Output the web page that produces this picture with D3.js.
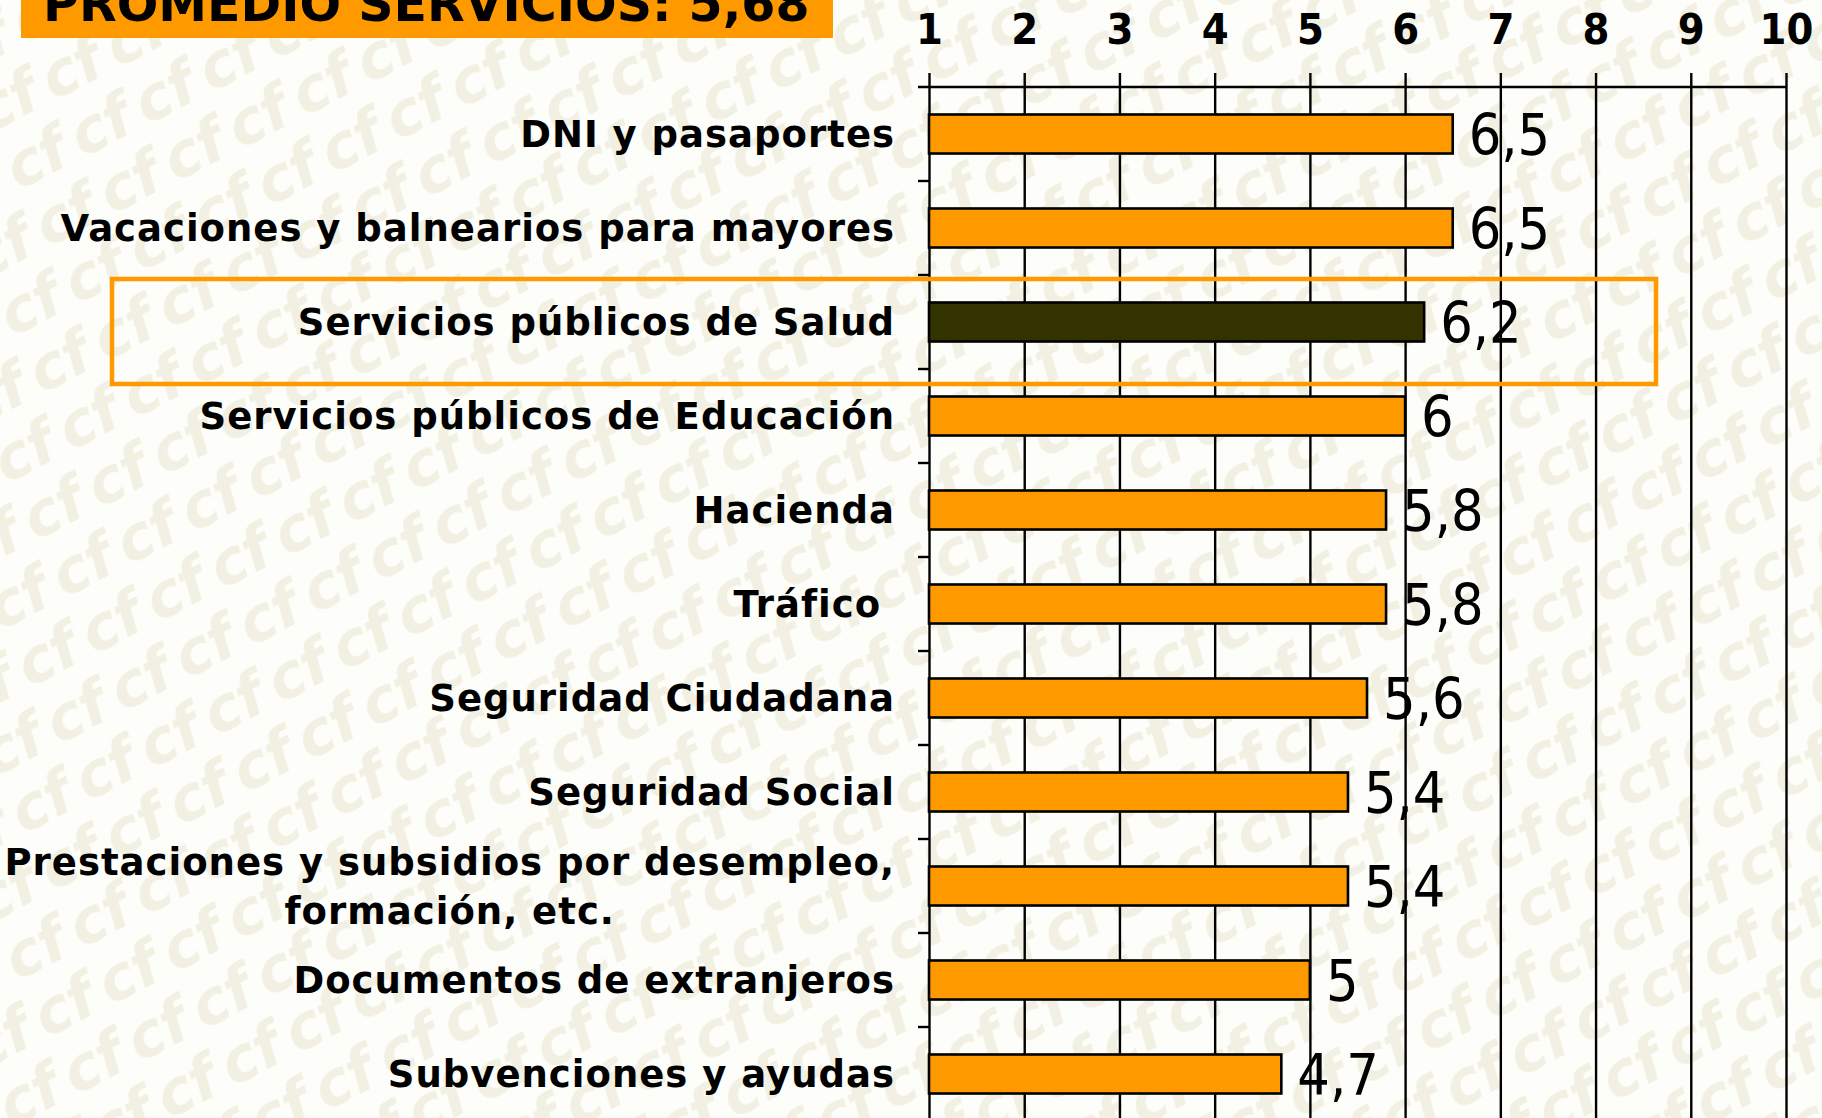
<!DOCTYPE html>
<html>
<head>
<meta charset="utf-8">
<script src="https://cdn.jsdelivr.net/npm/d3@7"></script>
<style>
  html, body { margin: 0; padding: 0; background: #fdfdfa; overflow: hidden; }
  svg { display: block; }
</style>
</head>
<body>
<div id="chart"></div>
<script>
/* ===== Data ===== */
const categories = [
    "DNI y pasaportes",
    "Vacaciones y balnearios para mayores",
    "Servicios públicos de Salud",
    "Servicios públicos de Educación",
    "Hacienda",
    "Tráfico ",
    "Seguridad Ciudadana",
    "Seguridad Social",
    "Prestaciones y subsidios por desempleo,|formación, etc.",
    "Documentos de extranjeros",
    "Subvenciones y ayudas"
];
const scores = [6.5, 6.5, 6.2, 6, 5.8, 5.8, 5.6, 5.4, 5.4, 5, 4.7];
const highlighted = "Servicios públicos de Salud";
const tickValues = [1, 2, 3, 4, 5, 6, 7, 8, 9, 10];
const averageTitle = "PROMEDIO SERVICIOS: 5,68";

/* ===== Constants ===== */
const width = 1822;
const height = 1118;
const plot = {top: 87, left: 929, right: 1786, rowStep: 94};
const orange = "#ff9900";
const dark = "#333300";

const es = d3.formatLocale({decimal: ",", thousands: ".", grouping: [3], currency: ["", "€"]});
const fmt = v => es.format("~g")(v);

const rows = categories.map((c, i) => ({name: c, lines: c.split("|"), value: scores[i]}));

const svg = d3.select("#chart").append("svg")
    .attr("width", width)
    .attr("height", height);

// background watermark pattern
const defs = svg.append("defs");
const pat = defs.append("pattern")
    .attr("id", "logo")
    .attr("patternUnits", "userSpaceOnUse")
    .attr("width", 72)
    .attr("height", 64)
    .attr("patternTransform", "rotate(-27)");
pat.append("text")
    .attr("x", 2).attr("y", 50)
    .attr("font-family", "DejaVu Sans")
    .attr("font-weight", "bold")
    .attr("font-style", "italic")
    .attr("font-size", 60)
    .attr("fill", "#f1f0e2")
    .text("cf");
svg.append("rect").attr("width", width).attr("height", height).attr("fill", "#fdfdfa");
svg.append("rect").attr("width", width).attr("height", height).attr("fill", "url(#logo)");

const x = d3.scaleLinear()
    .domain([1, 10])
    .range([plot.left, plot.right]);

const y = d3.scaleBand()
    .domain(categories)
    .range([plot.top, plot.top + plot.rowStep * categories.length]);

const bw = y.bandwidth();
const barH = bw * 0.415;
const mid = d => y(d.name) + bw / 2;

// grid lines + top tick labels
const xAxis = d3.axisTop(x)
    .tickValues(tickValues)
    .tickSizeInner(-(height - 73))
    .tickSizeOuter(0)
    .tickPadding(29)
    .tickFormat(d3.format("d"));

const gx = svg.append("g")
    .attr("transform", "translate(0,73)")
    .call(xAxis);
gx.select(".domain").remove();
gx.selectAll(".tick line").attr("stroke", "#000").attr("stroke-width", 2.4);
gx.selectAll(".tick text")
    .attr("fill", "#000")
    .attr("font-family", "'DejaVu Sans Condensed', 'DejaVu Sans'")
    .attr("font-stretch", "condensed")
    .attr("font-weight", "bold")
    .attr("font-size", 43);

// horizontal axis line
svg.append("line")
    .attr("x1", plot.left - 11).attr("x2", plot.right)
    .attr("y1", plot.top).attr("y2", plot.top)
    .attr("stroke", "#000").attr("stroke-width", 2.4);

// small ticks on the left of the value axis, between rows
svg.append("g").selectAll("line")
    .data(categories.slice(1))
    .join("line")
    .attr("x1", plot.left - 11).attr("x2", plot.left)
    .attr("y1", d => y(d)).attr("y2", d => y(d))
    .attr("stroke", "#000").attr("stroke-width", 2.4);

// highlight frame around the Salud row
svg.append("rect")
    .attr("x", 112)
    .attr("y", y(highlighted) + 4)
    .attr("width", 1656 - 112)
    .attr("height", bw + 11)
    .attr("fill", "none")
    .attr("stroke", orange)
    .attr("stroke-width", 4.5);

// bars
svg.append("g").selectAll("rect")
    .data(rows)
    .join("rect")
    .attr("x", x(1))
    .attr("y", d => mid(d) - barH / 2)
    .attr("width", d => x(d.value) - x(1))
    .attr("height", barH)
    .attr("fill", d => d.name === highlighted ? dark : orange)
    .attr("stroke", "#000")
    .attr("stroke-width", 2.6);

// value labels
svg.append("g").selectAll("text")
    .data(rows)
    .join("text")
    .attr("x", d => x(d.value) + 16)
    .attr("y", d => mid(d) + 21)
    .attr("font-family", "'DejaVu Sans Condensed', 'DejaVu Sans'")
    .attr("font-stretch", "condensed")
    .attr("font-size", 57)
    .attr("fill", "#000")
    .text(d => fmt(d.value));

// category labels (right aligned, multi-line ones centred on themselves)
const labelRight = 895;
const labels = svg.append("g")
    .attr("font-family", "'DejaVu Sans'")
    .attr("font-weight", "bold")
    .attr("font-size", 37)
    .attr("letter-spacing", 1)
    .attr("fill", "#000");

rows.forEach(d => {
    if (d.lines.length === 1) {
        labels.append("text")
            .attr("x", labelRight)
            .attr("y", mid(d) + 13)
            .attr("text-anchor", "end")
            .style("white-space", "pre")
            .text(d.lines[0]);
    } else {
        const first = labels.append("text")
            .attr("x", labelRight)
            .attr("y", mid(d) - 11)
            .attr("text-anchor", "end")
            .text(d.lines[0]);
        const w = first.node().getComputedTextLength();
        labels.append("text")
            .attr("x", labelRight - w / 2)
            .attr("y", mid(d) + 38)
            .attr("text-anchor", "middle")
            .text(d.lines[1]);
    }
});

// title box at the top, cut off by the top edge
svg.append("rect")
    .attr("x", 21).attr("y", -40)
    .attr("width", 833 - 21).attr("height", 78)
    .attr("fill", orange);
svg.append("text")
    .attr("x", 43).attr("y", 21)
    .attr("font-family", "'DejaVu Sans'")
    .attr("font-weight", "bold")
    .attr("font-size", 49)
    .attr("fill", "#000")
    .text(averageTitle);
</script>
</body>
</html>
